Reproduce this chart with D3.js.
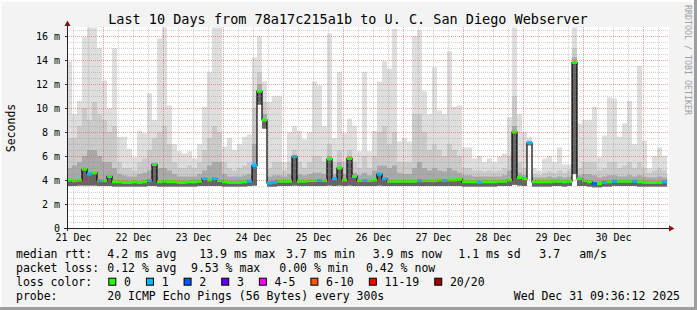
<!DOCTYPE html>
<html>
<head>
<meta charset="utf-8">
<script src="https://cdn.jsdelivr.net/npm/d3@7"></script>
<style>
body { margin: 0; background: #f3f3f3; }
svg text { font-family: "DejaVu Sans Mono", monospace; }
</style>
</head>
<body>
<svg id="chart" width="697" height="310"></svg>
<script>
/* Round trip times in ms, one value per 2 hour step, from 21 Dec 09:36 */
var rttMax = [13.9, 9.5, 10.6, 15.9, 16.7, 16.7, 15.0, 12.3, 10.0, 15.0,
    7.6, 7.6, 6.6, 5.9, 8.1, 7.9, 11.2, 9.0, 15.8, 16.7,
    10.2, 7.0, 6.4, 6.2, 6.4, 5.8, 7.0, 10.1, 13.0, 16.7,
    16.7, 6.8, 7.5, 6.5, 7.0, 7.6, 7.8, 14.2, 16.0, 12.2,
    10.5, 11.0, 11.0, 5.5, 8.0, 8.5, 8.1, 7.4, 8.0, 12.2,
    11.9, 8.5, 16.2, 7.5, 13.0, 7.9, 9.1, 8.5, 6.4, 13.0,
    6.4, 8.1, 12.2, 13.9, 13.3, 16.6, 7.2, 7.5, 7.2, 16.0,
    16.5, 11.4, 9.5, 13.4, 9.8, 9.5, 14.7, 10.1, 10.2, 6.7,
    6.7, 5.8, 6.0, 5.5, 5.8, 5.5, 6.0, 6.2, 9.25, 16.7,
    9.5, 8.0, 7.55, 5.0, 4.8, 5.8, 6.0, 5.5, 6.7, 5.3,
    5.3, 16.7, 8.7, 9.0, 9.0, 10.1, 5.9, 7.7, 10.9, 10.8,
    7.6, 8.7, 10.6, 7.0, 13.5, 7.3, 5.0, 6.0, 6.7, 6.0];

var rttHigh = [7.5, 7.5, 8.5, 10.0, 9.0, 10.5, 9.5, 9.0, 8.0, 8.5,
    5.5, 5.0, 5.0, 4.8, 5.5, 5.8, 6.5, 7.5, 8.0, 8.5,
    7.0, 5.5, 5.0, 5.0, 5.2, 5.0, 5.5, 6.5, 7.5, 8.5,
    8.0, 5.5, 5.0, 4.8, 5.0, 5.2, 5.5, 10.0, 13.0, 10.5,
    5.0, 5.5, 5.5, 4.8, 5.5, 6.5, 5.5, 5.0, 5.5, 6.0,
    6.0, 5.5, 7.0, 5.5, 6.5, 5.5, 6.5, 5.5, 5.0, 6.0,
    5.0, 6.0, 8.0, 8.5, 7.0, 8.0, 5.5, 5.5, 5.5, 9.5,
    9.5, 8.0, 6.5, 7.0, 6.5, 6.0, 7.0, 6.5, 6.0, 5.0,
    5.0, 4.8, 4.8, 4.7, 4.8, 4.7, 4.8, 5.0, 6.0, 11.0,
    5.5, 5.0, 7.3, 4.5, 4.4, 4.6, 4.7, 4.6, 4.8, 4.6,
    4.8, 15.0, 5.0, 5.5, 5.5, 5.5, 4.8, 5.0, 5.5, 5.5,
    5.0, 5.2, 5.5, 5.0, 5.5, 5.0, 4.6, 4.8, 5.0, 4.8];

var rttLow = [5.0, 5.2, 5.5, 6.0, 6.5, 6.5, 6.0, 5.5, 5.5, 5.0,
    4.5, 4.4, 4.3, 4.3, 4.5, 4.6, 4.8, 5.3, 5.0, 5.0,
    4.8, 4.5, 4.3, 4.3, 4.3, 4.3, 4.5, 4.8, 5.2, 5.5,
    5.5, 4.5, 4.3, 4.3, 4.3, 4.4, 4.5, 7.0, 12.0, 9.5,
    4.3, 4.4, 4.4, 4.3, 4.5, 6.0, 4.5, 4.4, 4.5, 4.6,
    4.6, 4.5, 6.0, 4.5, 5.5, 4.5, 6.0, 4.6, 4.4, 4.6,
    4.4, 4.8, 5.2, 5.2, 5.0, 5.2, 4.6, 4.5, 4.5, 5.0,
    5.5, 5.0, 4.8, 5.0, 4.8, 4.7, 5.0, 4.8, 4.6, 4.4,
    4.4, 4.3, 4.3, 4.3, 4.3, 4.3, 4.3, 4.4, 4.8, 8.5,
    4.6, 4.4, 7.2, 4.2, 4.2, 4.2, 4.3, 4.2, 4.3, 4.2,
    4.3, 14.2, 4.4, 4.5, 4.5, 4.4, 4.2, 4.3, 4.4, 4.4,
    4.3, 4.3, 4.4, 4.3, 4.4, 4.3, 4.2, 4.2, 4.3, 4.2];

var rttMedian = [4.0, 3.95, 4.0, 4.9, 4.5, 4.6, 3.95, 3.95, 4.3, 3.85,
    3.85, 3.8, 3.8, 3.85, 3.8, 3.85, 3.95, 5.3, 3.85, 3.9,
    3.85, 3.85, 3.8, 3.8, 3.85, 3.85, 3.9, 4.1, 4.0, 4.1,
    3.95, 3.85, 3.8, 3.8, 3.8, 3.85, 3.9, 5.2, 11.4, 9.0,
    3.75, 3.8, 3.9, 3.9, 3.9, 5.95, 3.9, 3.9, 3.95, 3.95,
    3.95, 3.95, 5.75, 4.1, 5.0, 4.0, 5.8, 4.3, 3.95, 3.95,
    3.95, 4.0, 4.5, 4.1, 3.9, 3.9, 3.9, 3.9, 3.9, 3.9,
    3.95, 3.95, 3.95, 3.95, 4.0, 3.95, 4.0, 4.0, 4.05, 3.85,
    3.85, 3.85, 3.8, 3.85, 3.85, 3.85, 3.9, 3.9, 4.0, 8.0,
    4.2, 4.1, 7.1, 3.85, 3.85, 3.85, 3.85, 3.9, 3.9, 3.85,
    3.9, 13.8, 4.1, 3.95, 3.85, 3.7, 3.7, 3.8, 3.85, 3.9,
    3.9, 3.9, 3.9, 3.9, 3.85, 3.8, 3.8, 3.8, 3.8, 3.85];

var rttMin = [3.5, 3.5, 3.55, 3.55, 3.55, 3.55, 3.5, 3.5, 3.5, 3.45,
    3.45, 3.45, 3.45, 3.45, 3.45, 3.45, 3.5, 3.5, 3.45, 3.45,
    3.45, 3.45, 3.45, 3.45, 3.45, 3.45, 3.5, 3.5, 3.5, 3.5,
    3.5, 3.45, 3.45, 3.45, 3.45, 3.45, 3.5, 3.55, 10.3, 8.3,
    3.45, 3.45, 3.5, 3.5, 3.5, 3.55, 3.5, 3.5, 3.5, 3.5,
    3.5, 3.5, 3.55, 3.5, 3.55, 3.5, 3.55, 3.5, 3.5, 3.5,
    3.5, 3.5, 3.55, 3.5, 3.5, 3.5, 3.5, 3.5, 3.5, 3.5,
    3.5, 3.5, 3.5, 3.5, 3.5, 3.5, 3.5, 3.5, 3.5, 3.45,
    3.45, 3.45, 3.45, 3.45, 3.45, 3.45, 3.5, 3.5, 3.5, 3.6,
    3.55, 3.5, 6.9, 3.45, 3.45, 3.45, 3.45, 3.5, 3.5, 3.45,
    3.5, 4.5, 3.5, 3.5, 3.45, 3.4, 3.4, 3.45, 3.45, 3.5,
    3.5, 3.5, 3.5, 3.5, 3.45, 3.45, 3.45, 3.45, 3.45, 3.45];

/* Number of lost pings (of 20) for each step */
var lostPings = [0, 0, 0, 0, 1, 0, 1, 0, 0, 0,
    0, 0, 0, 0, 0, 0, 1, 0, 0, 0,
    0, 0, 0, 0, 0, 0, 0, 1, 0, 1,
    0, 0, 0, 0, 0, 0, 1, 1, 0, 0,
    1, 1, 0, 0, 0, 1, 0, 0, 0, 0,
    1, 0, 0, 1, 0, 0, 0, 0, 0, 1,
    0, 0, 1, 1, 0, 0, 0, 0, 0, 0,
    1, 0, 0, 0, 0, 1, 0, 0, 0, 0,
    0, 0, 1, 0, 0, 0, 0, 0, 0, 0,
    0, 0, 1, 0, 0, 0, 0, 0, 0, 0,
    0, 0, 0, 0, 0, 2, 0, 1, 0, 1,
    0, 0, 0, 1, 0, 0, 0, 0, 0, 1];

var lossLabels = ["0", "1", "2", "3", "4-5", "6-10", "11-19", "20/20"];
var lossColors = ["#26ff00", "#00b8ff", "#0059ff", "#5e00ff", "#ff00ff", "#ff5500", "#ff0000", "#a10000"];

var yTickValues = [0, 2, 4, 6, 8, 10, 12, 14, 16];

var titleText = "Last 10 Days from 78a17c215a1b to U. C. San Diego Webserver";
var rttLabels = ["4.2 ms avg", "13.9 ms max", "3.7 ms min", "3.9 ms now", "1.1 ms sd", "3.7", "am/s"];
var lossStats = ["0.12 % avg", "9.53 % max", "0.00 % min", "0.42 % now"];
var probeText = "20 ICMP Echo Pings (56 Bytes) every 300s";
var stampText = "Wed Dec 31 09:36:12 2025";

var startTime = new Date(Date.UTC(2025, 11, 21, 9, 36, 12));
var endTime = new Date(Date.UTC(2025, 11, 31, 9, 36, 12));

var width = 697, height = 310;
var margin = {left: 67, top: 28, right: 30, bottom: 82};
var plotW = width - margin.left - margin.right;
var plotH = height - margin.top - margin.bottom;

var svg = d3.select("#chart");

// background and the 3d border
svg.append("rect").attr("width", width).attr("height", height).attr("fill", "#f3f3f3");
svg.append("rect").attr("width", width).attr("height", 2).attr("fill", "#fcfcfc");
svg.append("rect").attr("width", 2).attr("height", height).attr("fill", "#fcfcfc");
svg.append("rect").attr("y", height - 3).attr("width", width).attr("height", 3).attr("fill", "#9e9e9e");
svg.append("rect").attr("x", width - 3).attr("width", 3).attr("height", height).attr("fill", "#9e9e9e");

var x = d3.scaleUtc().domain([startTime, endTime]).range([margin.left, margin.left + plotW]);
var y = d3.scaleLinear().domain([0, plotH / 12]).range([margin.top + plotH, margin.top]);

// canvas
svg.append("rect")
    .attr("x", margin.left).attr("y", margin.top - 1)
    .attr("width", plotW + 2).attr("height", plotH + 1)
    .attr("fill", "#ffffff");

svg.append("clipPath").attr("id", "plot-clip")
    .append("rect")
    .attr("x", margin.left).attr("y", margin.top - 1)
    .attr("width", plotW + 2).attr("height", plotH + 1);

var rows = rttMedian.map(function(m, i) {
    return {
        t: d3.utcHour.offset(startTime, 2 * i),
        t1: d3.utcHour.offset(startTime, 2 * (i + 1)),
        med: m, max: rttMax[i], hi: rttHigh[i], lo: rttLow[i], min: rttMin[i],
        loss: lostPings[i]
    };
});
// repeat the last step so the step curves reach its end
var stepRows = rows.concat([Object.assign({}, rows[rows.length - 1], {t: rows[rows.length - 1].t1})]);

var plot = svg.append("g").attr("clip-path", "url(#plot-clip)");

function smoke(topKey, bottomKey, color) {
    var area = d3.area()
        .curve(d3.curveStepAfter)
        .x(function(d) { return x(d.t); })
        .y0(function(d) { return y(d[bottomKey]); })
        .y1(function(d) { return y(d[topKey]); });
    plot.append("path").datum(stepRows)
        .attr("d", area)
        .attr("fill", color);
}

// smoke layers, lightest first
smoke("max", "min", "#dedede");
smoke("hi", "min", "#cacaca");
smoke("lo", "min", "#a9a9a9");
smoke("med", "min", "#656565");

// median: black step line with the loss colour on each step
var medLine = d3.line()
    .curve(d3.curveStepAfter)
    .x(function(d) { return x(d.t); })
    .y(function(d) { return y(d.med); });
plot.append("path").datum(stepRows)
    .attr("d", medLine)
    .attr("fill", "none")
    .attr("stroke", "#000")
    .attr("stroke-width", 1.2);

function lossIndex(n) {
    if (n <= 3) return n;
    if (n <= 5) return 4;
    if (n <= 10) return 5;
    if (n <= 19) return 6;
    return 7;
}
plot.selectAll(".med").data(rows).enter().append("rect")
    .attr("class", "med")
    .attr("x", function(d) { return x(d.t); })
    .attr("y", function(d) { return y(d.med) - 1.5; })
    .attr("width", function(d) { return x(d.t1) - x(d.t); })
    .attr("height", 3)
    .attr("fill", function(d) { return lossColors[lossIndex(d.loss)]; });

// grid on top of the graph
var grid = svg.append("g").attr("shape-rendering", "crispEdges");
var gridRight = margin.left + plotW + 2;
var minorY = d3.range(0.5, plotH / 12, 0.5).filter(function(v) { return v % 2 !== 0; });
grid.selectAll(".gy").data(minorY).enter().append("line")
    .attr("x1", margin.left).attr("x2", gridRight)
    .attr("y1", function(d) { return Math.round(y(d)) + 0.5; })
    .attr("y2", function(d) { return Math.round(y(d)) + 0.5; })
    .attr("stroke", "rgba(140,140,140,0.4)").attr("stroke-dasharray", "1,1");
var minorX = d3.utcHour.every(6).range(startTime, endTime).filter(function(t) { return t.getUTCHours() !== 0; });
grid.selectAll(".gx").data(minorX).enter().append("line")
    .attr("x1", function(d) { return Math.round(x(d)) + 0.5; })
    .attr("x2", function(d) { return Math.round(x(d)) + 0.5; })
    .attr("y1", margin.top - 1).attr("y2", margin.top + plotH)
    .attr("stroke", "rgba(140,140,140,0.4)").attr("stroke-dasharray", "1,1");
grid.selectAll(".my").data(yTickValues.slice(1)).enter().append("line")
    .attr("x1", margin.left).attr("x2", gridRight)
    .attr("y1", function(d) { return Math.round(y(d)) + 0.5; })
    .attr("y2", function(d) { return Math.round(y(d)) + 0.5; })
    .attr("stroke", "rgba(222,48,48,0.45)").attr("stroke-dasharray", "1,1");
var days = d3.utcDay.range(startTime, endTime);
grid.selectAll(".mx").data(days).enter().append("line")
    .attr("x1", function(d) { return Math.round(x(d)) + 0.5; })
    .attr("x2", function(d) { return Math.round(x(d)) + 0.5; })
    .attr("y1", margin.top - 1).attr("y2", margin.top + plotH)
    .attr("stroke", "rgba(222,48,48,0.45)").attr("stroke-dasharray", "1,1");

// axes
var yAxis = d3.axisLeft(y)
    .tickValues(yTickValues)
    .tickSize(2).tickSizeOuter(0).tickPadding(5)
    .tickFormat(function(v) { return v === 0 ? "0" : v + " m"; });
var yg = svg.append("g").attr("transform", "translate(" + margin.left + ",0)").call(yAxis);
yg.select(".domain").remove();
yg.selectAll("text").attr("font-family", "DejaVu Sans Mono").attr("font-size", 10).attr("fill", "#000");
yg.selectAll("line").attr("stroke", "#333");

var noons = d3.utcHour.range(startTime, endTime).filter(function(t) { return t.getUTCHours() === 12; });
var xAxis = d3.axisBottom(x)
    .tickValues(noons)
    .tickSize(0).tickSizeOuter(0).tickPadding(5.8)
    .tickFormat(d3.utcFormat("%d %b"));
var xg = svg.append("g").attr("transform", "translate(0," + (margin.top + plotH) + ")").call(xAxis);
xg.select(".domain").remove();
xg.selectAll("text").attr("font-family", "DejaVu Sans Mono").attr("font-size", 10).attr("fill", "#000");

var axisY = margin.top + plotH + 0.5;
svg.append("line").attr("x1", margin.left - 3).attr("x2", margin.left + plotW + 4)
    .attr("y1", axisY).attr("y2", axisY).attr("stroke", "#222");
svg.append("line").attr("x1", margin.left + 0.5).attr("x2", margin.left + 0.5)
    .attr("y1", margin.top + plotH + 3).attr("y2", margin.top - 4).attr("stroke", "#222");
svg.append("path")
    .attr("d", "M" + (margin.left - 2.5) + "," + (margin.top - 2) + "L" + (margin.left + 3.5) + "," + (margin.top - 2) + "L" + (margin.left + 0.5) + "," + (margin.top - 7.5) + "Z")
    .attr("fill", "#8b1010");
var ax = margin.left + plotW + 2;
svg.append("path")
    .attr("d", "M" + ax + "," + (axisY - 3) + "L" + ax + "," + (axisY + 3) + "L" + (ax + 5.5) + "," + axisY + "Z")
    .attr("fill", "#8b1010");

// texts
svg.append("text").attr("x", 348).attr("y", 24)
    .attr("text-anchor", "middle").attr("font-size", 13.5).attr("fill", "#000")
    .text(titleText);

svg.append("text").attr("transform", "translate(14.5," + (margin.top + plotH / 2) + ") rotate(-90)")
    .attr("text-anchor", "middle").attr("font-size", 11.5).attr("fill", "#000")
    .text("Seconds");

svg.append("text").attr("transform", "translate(684.5,5) rotate(90)")
    .attr("font-size", 8.3).attr("fill", "#a0a0a0")
    .text("RRDTOOL / TOBI OETIKER");

var legend = svg.append("g").attr("font-size", 11.5).attr("fill", "#000");
var rowBase = [258.3, 272.3, 286, 299.7];

legend.append("text").attr("x", 16).attr("y", rowBase[0]).text("median rtt:");
var rttX = [107.3, 199.3, 286, 372.7, 458.3, 539.3, 579.3];
rttLabels.forEach(function(s, i) {
    legend.append("text").attr("x", rttX[i]).attr("y", rowBase[0]).text(s);
});

legend.append("text").attr("x", 16).attr("y", rowBase[1]).text("packet loss:");
var lossX = [107.3, 191, 279.3, 366];
lossStats.forEach(function(s, i) {
    legend.append("text").attr("x", lossX[i]).attr("y", rowBase[1]).text(s);
});

legend.append("text").attr("x", 16).attr("y", rowBase[2]).text("loss color:");
var cursor = 108.3;
lossLabels.forEach(function(s, i) {
    legend.append("rect")
        .attr("x", cursor + 0.5).attr("y", rowBase[2] - 7.8)
        .attr("width", 7).attr("height", 7)
        .attr("fill", lossColors[i]).attr("stroke", "#000").attr("stroke-width", 1);
    legend.append("text").attr("x", cursor + 15.7).attr("y", rowBase[2]).text(s);
    cursor += 15.7 + s.length * 6.94 + 15;
});

legend.append("text").attr("x", 16).attr("y", rowBase[3]).text("probe:");
legend.append("text").attr("x", 107.3).attr("y", rowBase[3]).text(probeText);
legend.append("text").attr("x", 680).attr("y", rowBase[3]).attr("text-anchor", "end").text(stampText);
</script>
</body>
</html>
